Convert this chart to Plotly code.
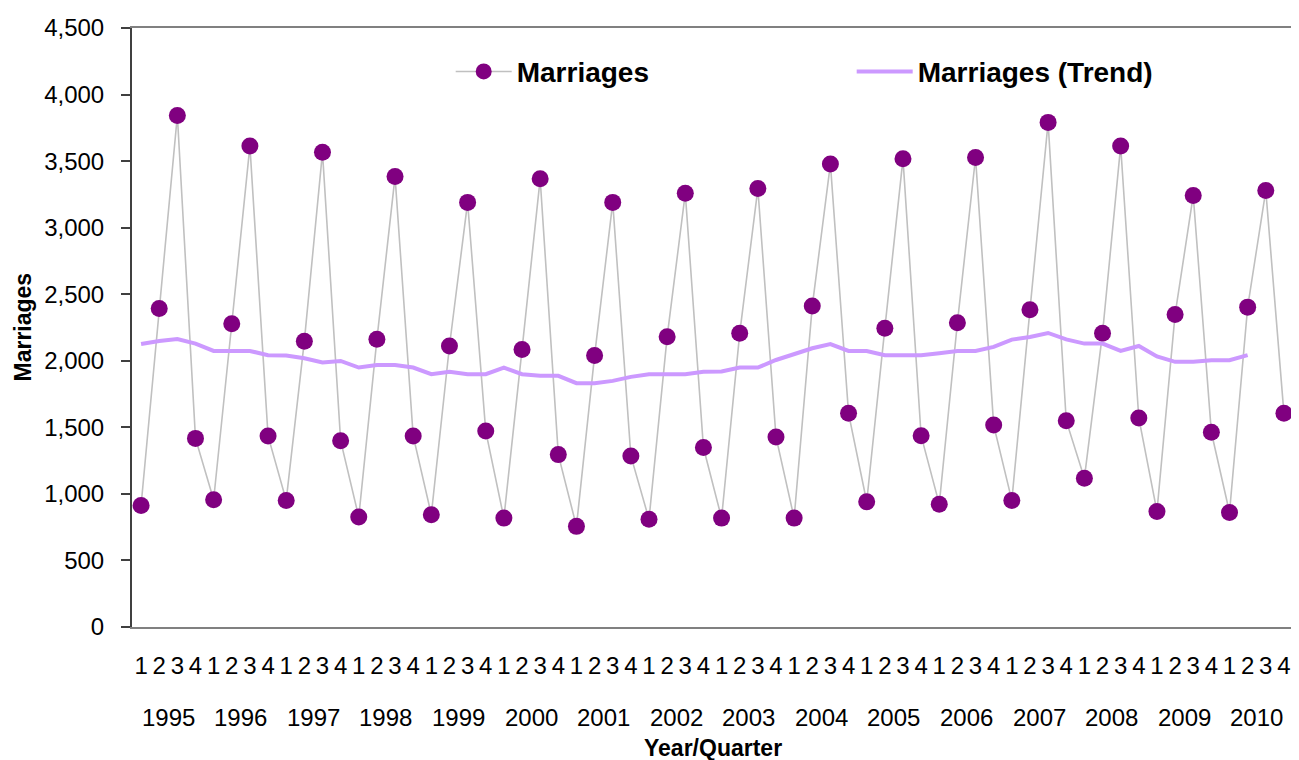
import plotly.graph_objects as go

years = [str(y) for y in range(1995, 2011)]
quarters = ["1", "2", "3", "4"]

marriages = [
    913, 2393, 3843, 1417,
    956, 2278, 3614, 1435,
    951, 2147, 3566, 1400,
    826, 2161, 3384, 1435,
    844, 2111, 3190, 1472,
    818, 2084, 3367, 1295,
    756, 2039, 3190, 1285,
    809, 2181, 3259, 1348,
    818, 2206, 3294, 1428,
    818, 2411, 3479, 1605,
    941, 2244, 3517, 1437,
    923, 2286, 3527, 1517,
    951, 2383, 3791, 1550,
    1118, 2206, 3614, 1570,
    868, 2348, 3242, 1463,
    861, 2403, 3279, 1605,
]

trend = [
    2126, 2149, 2164, 2129,
    2074, 2074, 2074, 2042,
    2039, 2019, 1987, 1999,
    1949, 1969, 1969, 1949,
    1899, 1917, 1899, 1899,
    1949, 1899, 1887, 1887,
    1832, 1832, 1849, 1879,
    1899, 1899, 1899, 1917,
    1919, 1949, 1949, 2006,
    2049, 2094, 2126, 2074,
    2074, 2042, 2042, 2042,
    2057, 2074, 2074, 2104,
    2159, 2179, 2209, 2161,
    2129, 2129, 2074, 2111,
    2032, 1992, 1992, 2004,
    2004, 2042,
]

n = len(years) * len(quarters)
xs = list(range(n))
qlabels = [q for _ in years for q in quarters]

FONT = "Liberation Sans, Arial, sans-serif"

fig = go.Figure()
fig.add_trace(go.Scatter(
    x=xs, y=marriages, name="Marriages", mode="lines+markers",
    line=dict(color="#C0C0C0", width=1.6),
    marker=dict(color="#800080", size=17),
))
fig.add_trace(go.Scatter(
    x=xs[:len(trend)], y=trend, name="Marriages (Trend)", mode="lines",
    line=dict(color="#CC99FF", width=4),
))

annotations = []
for i, y in enumerate(years):
    annotations.append(dict(
        x=i * 4 + 1.5, y=0, xref="x", yref="paper", text=y, showarrow=False,
        yshift=-90, font=dict(size=24, color="black", family=FONT),
        xanchor="center", yanchor="middle",
    ))
annotations.append(dict(
    x=0.5, y=0, xref="paper", yref="paper", text="<b>Year/Quarter</b>", showarrow=False,
    yshift=-121, font=dict(size=23, color="black", family=FONT),
    xanchor="center", yanchor="middle",
))
annotations.append(dict(
    x=0, y=0.5, xref="paper", yref="paper", text="<b>Marriages</b>", showarrow=False,
    xshift=-110, textangle=-90, font=dict(size=23, color="black", family=FONT),
    xanchor="center", yanchor="middle",
))

fig.update_layout(
    width=1291, height=752,
    margin=dict(l=124, r=6, t=18, b=133),
    paper_bgcolor="white", plot_bgcolor="white",
    font=dict(family=FONT, color="black", size=24),
    showlegend=True,
    legend=dict(
        orientation="h", x=0.2745, y=0.927, xanchor="left", yanchor="middle",
        font=dict(size=28, family=FONT, color="black", weight="bold"),
        itemwidth=56, entrywidth=330, bgcolor="rgba(0,0,0,0)",
        tracegroupgap=0,
    ),
    xaxis=dict(
        range=[-0.5, n - 0.5], tickmode="array", tickvals=xs, ticktext=qlabels,
        showgrid=False, zeroline=False, showline=True, linecolor="#808080",
        linewidth=2, mirror=True, ticks="", ticklabelstandoff=16,
        tickfont=dict(size=24, family=FONT, color="black"),
    ),
    yaxis=dict(
        range=[0, 4500], dtick=500, tickformat=",", showgrid=False,
        zeroline=False, showline=True, linecolor="#404040", linewidth=2,
        ticks="outside", ticklen=9, tickcolor="#404040", tickwidth=2,
        ticklabelstandoff=12,
        tickfont=dict(size=24, family=FONT, color="black"),
    ),
    annotations=annotations,
    shapes=[dict(type="line", xref="paper", yref="paper", x0=1, x1=1, y0=0, y1=1,
                 line=dict(color="#808080", width=2))],
)

fig.write_html("out.html")
